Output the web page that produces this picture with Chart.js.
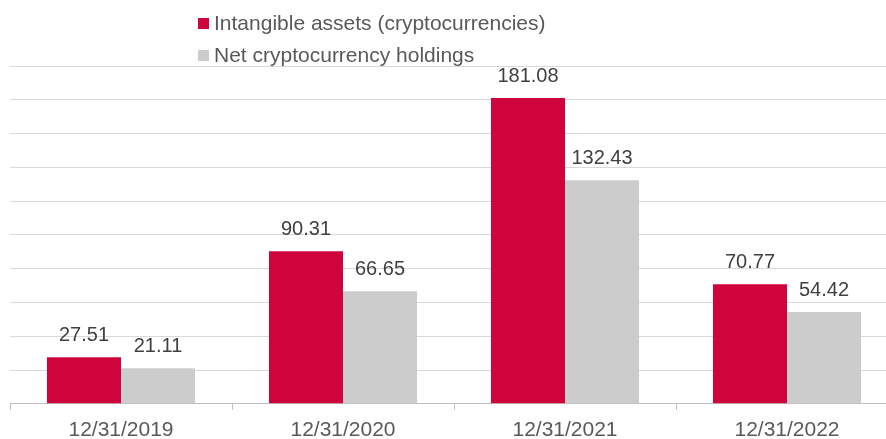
<!DOCTYPE html>
<html>
<head>
<meta charset="utf-8">
<script src="https://cdn.jsdelivr.net/npm/chart.js@4/dist/chart.umd.min.js"></script>
<style>
    html, body { margin: 0; padding: 0; background: #ffffff; overflow: hidden; width: 886px; height: 439px; }
    /* il grafico originale e' tagliato a destra e in basso */
    #chart { position: fixed; left: 0; top: 0; }
    #legend { position: fixed; left: 198px; top: 7px; font-family: "Liberation Sans", Arial, sans-serif; font-size: 21px; color: #595959; }
    #legend div { height: 32px; line-height: 32px; display: flex; align-items: center; }
    #legend span.box { display: inline-block; width: 11px; height: 11px; margin-right: 5px; }
</style>
</head>
<body>
<canvas id="chart" width="900" height="451"></canvas>
<div id="legend"></div>
<script>
// dati del grafico
const categories = ["12/31/2019", "12/31/2020", "12/31/2021", "12/31/2022"];
const intangibleAssets = [27.51, 90.31, 181.08, 70.77];
const netHoldings = [21.11, 66.65, 132.43, 54.42];
const seriesNames = ["Intangible assets (cryptocurrencies)", "Net cryptocurrency holdings"];
const seriesColors = ["#d0043c", "#cccccc"];

// Legenda in HTML (due righe, una sotto l'altra)
const legend = document.getElementById("legend");
seriesNames.forEach((name, i) => {
    const row = document.createElement("div");
    row.innerHTML = `<span class="box" style="background:${seriesColors[i]}"></span>${name}`;
    legend.appendChild(row);
});

// Etichette con i valori sopra le barre
const valueLabels = {
    id: "valueLabels",
    afterDatasetsDraw(chart) {
        const ctx = chart.ctx;
        ctx.save();
        ctx.font = "20px 'Liberation Sans', Arial, sans-serif";
        ctx.fillStyle = "#404040";
        ctx.textAlign = "center";
        ctx.textBaseline = "alphabetic";
        chart.data.datasets.forEach((ds, i) => {
            chart.getDatasetMeta(i).data.forEach((bar, j) => {
                ctx.fillText(ds.data[j].toFixed(2), bar.x, bar.y - 16);
            });
        });
        ctx.restore();
    }
};

new Chart(document.getElementById("chart").getContext("2d"), {
    type: "bar",
    data: {
        labels: categories,
        datasets: [
            { label: seriesNames[0], data: intangibleAssets, backgroundColor: seriesColors[0] },
            { label: seriesNames[1], data: netHoldings, backgroundColor: seriesColors[1] }
        ]
    },
    options: {
        responsive: false,
        animation: false,
        layout: { padding: { left: 10, right: 2, top: 66, bottom: 0 } },
        datasets: { bar: { categoryPercentage: 0.667, barPercentage: 1.0 } },
        plugins: { legend: { display: false }, tooltip: { enabled: false } },
        scales: {
            x: {
                grid: { offset: true, drawOnChartArea: false, color: "#bfbfbf", tickLength: 6 },
                border: { color: "#bfbfbf" },
                ticks: { color: "#595959", padding: 8, font: { family: "'Liberation Sans', Arial, sans-serif", size: 21 } }
            },
            y: {
                min: 0,
                max: 200,
                ticks: { stepSize: 20, display: false },
                grid: { color: "#d9d9d9", drawTicks: false },
                border: { display: false },
                afterFit: s => { s.width = 0; }
            }
        }
    },
    plugins: [valueLabels]
});
</script>
</body>
</html>
